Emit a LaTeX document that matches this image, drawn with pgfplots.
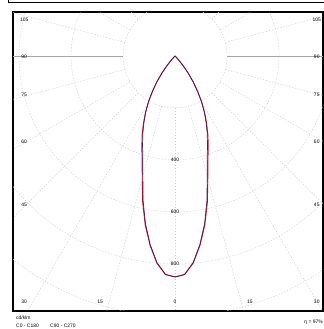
\documentclass[border=0pt]{standalone}
\usepackage{fontspec}
\setmainfont{Liberation Sans}
\usepackage{pgfplots}
\pgfplotsset{compat=1.18}
\definecolor{cA}{HTML}{C8102E}
\definecolor{cB}{HTML}{4A1A55}
\begin{document}
\begin{tikzpicture}[font=\fontsize{5}{6}\selectfont]
\path[use as bounding box] (0,0) rectangle (324bp,329bp);
\draw[line width=0.8bp] (8bp,329bp) -- (8bp,327bp) -- (324bp,327bp);
\begin{axis}[at={(13bp,18bp)}, anchor=south west, scale only axis,
  width=310bp, height=299bp,
  xmin=-623, xmax=569, ymin=-981, ymax=169,
  ticks=none, axis line style={line width=1.4bp}, clip=true]
% rings
\pgfplotsinvokeforeach{200,400,...,1200}{
  \draw[black!20, dash pattern=on 1.5bp off 1.5bp, line width=0.4bp] (axis cs:0,0) circle[radius=#1];
}
% radial lines
\pgfplotsinvokeforeach{-165,-150,...,-15,15,30,...,165}{
  \draw[black!20, dash pattern=on 1.5bp off 1.5bp, line width=0.4bp] (axis cs:{200*cos(#1)},{200*sin(#1)}) -- (axis cs:{1400*cos(#1)},{1400*sin(#1)});
}
\draw[black!35, line width=0.5bp] (axis cs:200,0) -- (axis cs:1400,0);
\draw[black!35, line width=0.5bp] (axis cs:-200,0) -- (axis cs:-1400,0);
% C0-C180
\addplot[cA, line width=0.9bp, data cs=polar] coordinates {
(-135,0) (-132.5,18) (-130,46) (-127.5,82) (-125,122) (-122.5,162) (-120,205)
(-117.5,247) (-115,288) (-112.5,331) (-110,373) (-107.5,421) (-105,487)
(-102.5,575) (-100,660) (-97.5,735) (-95,800) (-92.5,842) (-90,850)
(-87.5,842) (-85,800) (-82.5,735) (-80,660) (-77.5,575) (-75,487)
(-72.5,421) (-70,373) (-67.5,331) (-65,288) (-62.5,247) (-60,205)
(-57.5,162) (-55,122) (-52.5,82) (-50,46) (-47.5,18) (-45,0)
};
% C90-C270
\addplot[cB, line width=0.7bp, data cs=polar] coordinates {
(-135,0) (-132.5,18) (-130,46) (-127.5,82) (-125,122) (-122.5,162) (-120,204)
(-117.5,244) (-115,283) (-112.5,324) (-110,365) (-107.5,412) (-105,478)
(-102.5,568) (-100,655) (-97.5,732) (-95,798) (-92.5,841) (-90,850)
(-87.5,841) (-85,798) (-82.5,732) (-80,655) (-77.5,568) (-75,478)
(-72.5,412) (-70,365) (-67.5,324) (-65,283) (-62.5,244) (-60,204)
(-57.5,162) (-55,122) (-52.5,82) (-50,46) (-47.5,18) (-45,0)
};
% ring labels
\node at (axis cs:0,-400) {400};
\node at (axis cs:0,-600) {600};
\node at (axis cs:0,-800) {800};
% angle labels
\node at (axis cs:-580,138) {105};
\node at (axis cs:-580,-4) {90};
\node at (axis cs:-580,-150) {75};
\node at (axis cs:-580,-331) {60};
\node at (axis cs:-580,-573) {45};
\node at (axis cs:-580,-946) {30};
\node at (axis cs:-288,-946) {15};
\node at (axis cs:0,-946) {0};
\node at (axis cs:288,-946) {15};
\node at (axis cs:545,-946) {30};
\node at (axis cs:545,-573) {45};
\node at (axis cs:545,-331) {60};
\node at (axis cs:545,-150) {75};
\node at (axis cs:545,-4) {90};
\node at (axis cs:545,138) {105};
\end{axis}
\node[anchor=west, inner sep=0] at (16bp,11bp) {cd/klm};
\node[anchor=west, inner sep=0] at (16bp,3.5bp) {C0 - C180 \quad\quad C90 - C270};
\node[anchor=east, inner sep=0] at (323bp,7bp) {η = 97\%};
\end{tikzpicture}
\end{document}
